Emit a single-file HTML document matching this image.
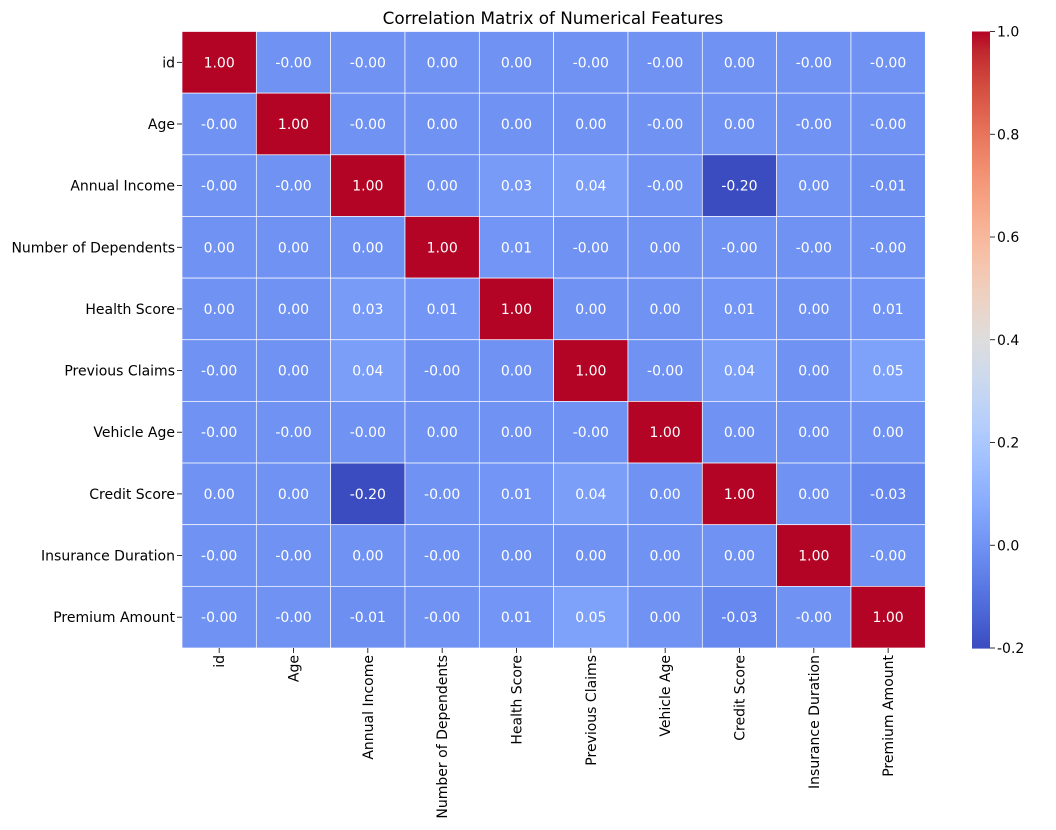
<!DOCTYPE html>
<html><head><meta charset="utf-8"><style>
body{margin:0;background:#fff;}
svg{display:block;font-family:"DejaVu Sans","Liberation Sans",sans-serif;}
</style></head><body>
<svg id="chart" width="1056" height="830">
<text x="553" y="24" font-size="16.8" text-anchor="middle" fill="#000">Correlation Matrix of Numerical Features</text>
<g id="cells"></g>
<g id="ylabels"></g>
<g id="xlabels"></g>
<g id="cbar"></g>
</svg>
<script>
const features = ["id","Age","Annual Income","Number of Dependents","Health Score","Previous Claims","Vehicle Age","Credit Score","Insurance Duration","Premium Amount"];
const row0 = [1.00,-0.00,-0.00,0.00,0.00,-0.00,-0.00,0.00,-0.00,-0.00];
const row1 = [-0.00,1.00,-0.00,0.00,0.00,0.00,-0.00,0.00,-0.00,-0.00];
const row2 = [-0.00,-0.00,1.00,0.00,0.03,0.04,-0.00,-0.20,0.00,-0.01];
const row3 = [0.00,0.00,0.00,1.00,0.01,-0.00,0.00,-0.00,-0.00,-0.00];
const row4 = [0.00,0.00,0.03,0.01,1.00,0.00,0.00,0.01,0.00,0.01];
const row5 = [-0.00,0.00,0.04,-0.00,0.00,1.00,-0.00,0.04,0.00,0.05];
const row6 = [-0.00,-0.00,-0.00,0.00,0.00,-0.00,1.00,0.00,0.00,0.00];
const row7 = [0.00,0.00,-0.20,-0.00,0.01,0.04,0.00,1.00,0.00,-0.03];
const row8 = [-0.00,-0.00,0.00,-0.00,0.00,0.00,0.00,0.00,1.00,-0.00];
const row9 = [-0.00,-0.00,-0.01,-0.00,0.01,0.05,0.00,-0.03,-0.00,1.00];
const matrix = [row0,row1,row2,row3,row4,row5,row6,row7,row8,row9];
const cbarTicks = [-0.2,0.0,0.2,0.4,0.6,0.8,1.0];
const vmin = -0.2, vmax = 1.0;

const NS="http://www.w3.org/2000/svg";
const X0=182, X1=925.3, Y0=31.5, Y1=648;
const FS=14;
const cw=(X1-X0)/features.length, ch=(Y1-Y0)/features.length;
const xPos=i=>X0+i*cw, yPos=i=>Y0+i*ch;

const lo=[[59,76,192],[68,90,204],[77,104,215],[87,117,225],[98,130,234],[108,142,241],[119,154,247],[130,165,251],[141,176,254],[152,185,255],[163,194,255],[174,201,253],[184,208,249],[194,213,244],[204,217,238],[213,219,230],[221,221,221]];
const hi=[[221,221,221],[229,216,209],[236,211,197],[241,204,184],[245,196,173],[247,187,160],[247,177,148],[247,166,135],[244,154,123],[241,141,111],[236,127,99],[229,112,88],[222,96,77],[213,80,66],[203,62,56],[192,40,47],[180,4,38]];
function cmap(v){
  let t=(v-vmin)/(vmax-vmin); t=Math.max(0,Math.min(1,t));
  const tab=t<=0.5?lo:hi; const s=(t<=0.5?t*2:(t-0.5)*2)*16;
  const i=Math.min(15,Math.floor(s)), f=s-i;
  const c=tab[i].map((a,k)=>Math.round(a+(tab[i+1][k]-a)*f));
  return `rgb(${c[0]},${c[1]},${c[2]})`;
}
function mk(tag,attrs,parent){const e=document.createElementNS(NS,tag);for(const k in attrs)e.setAttribute(k,attrs[k]);parent.appendChild(e);return e;}

const cells=document.getElementById('cells');
matrix.forEach((row,r)=>row.forEach((v,c)=>{
  const rc=mk('rect',{x:xPos(c),y:yPos(r),width:cw,height:ch,fill:cmap(v),stroke:'#fff','stroke-width':0.7},cells);
  
  
  const t=mk('text',{x:xPos(c)+cw/2,y:yPos(r)+ch/2+5,'font-size':FS,'text-anchor':'middle',fill:'#fff'},cells);
  
  
  let s=v.toFixed(2); if(v===0 && Object.is(v,-0)) s="-0.00";
  t.textContent=s;
}));
const yl=document.getElementById('ylabels'), xl=document.getElementById('xlabels');
features.forEach((f,i)=>{
  const cy=yPos(i)+ch/2;
  mk('line',{x1:X0-5,x2:X0,y1:cy,y2:cy,stroke:'#000','stroke-width':0.8},yl);
  const t=mk('text',{x:X0-7,y:cy+5,'font-size':FS,'text-anchor':'end',fill:'#000'},yl);
  
  
  t.textContent=f;
  const cx=xPos(i)+cw/2;
  mk('line',{x1:cx,x2:cx,y1:Y1,y2:Y1+5,stroke:'#000','stroke-width':0.8},xl);
  const tx=mk('text',{x:0,y:0,'font-size':FS,'text-anchor':'end',fill:'#000',transform:`translate(${cx+5},${Y1+7}) rotate(-90)`},xl);
  
  
  tx.textContent=f;
});
const cb=document.getElementById('cbar');
const CX=972, CW=18;
const cyPos=v=>Y1-(v-vmin)/(vmax-vmin)*(Y1-Y0);
for(let k=0;k<300;k++){
  const v=vmin+(k+0.5)/300*(vmax-vmin);
  mk('rect',{x:CX,y:cyPos(vmin+(k+1)/300*(vmax-vmin)),width:CW,height:(Y1-Y0)/300+0.6,fill:cmap(v)},cb);
}
cbarTicks.forEach(v=>{
  const y=cyPos(v);
  mk('line',{x1:CX+CW,x2:CX+CW+5,y1:y,y2:y,stroke:'#000','stroke-width':0.8},cb);
  const t=mk('text',{x:CX+CW+7,y:y+5,'font-size':FS,fill:'#000'},cb);
  
  
  t.textContent=v.toFixed(1);
});
</script>
</body></html>
